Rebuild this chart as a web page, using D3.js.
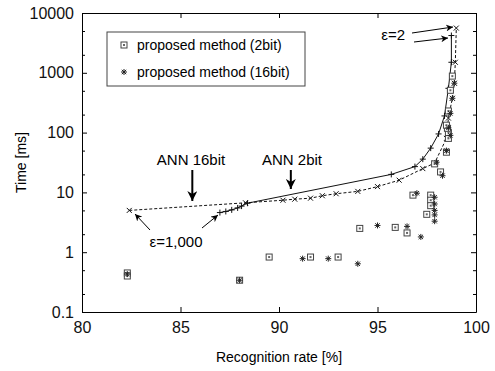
<!DOCTYPE html>
<html>
<head>
<meta charset="utf-8">
<script src="https://cdn.jsdelivr.net/npm/d3@7"></script>
<style>
  body { margin: 0; background: #fff; }
  svg { font-family: "Liberation Sans", Arial, sans-serif; }
  .axis path, .axis line { stroke: #000; }
</style>
</head>
<body>
<svg id="chart" width="495" height="371"></svg>
<script>
// ANN 2bit (solid line, + markers)
const ann2bit = [
  [87.0, 4.6], [87.3, 4.8], [87.6, 5.1], [87.9, 5.5], [88.1, 5.9], [88.4, 6.6],
  [95.7, 20], [96.9, 27], [97.3, 36], [97.7, 55], [98.1, 95], [98.4, 190],
  [98.6, 550], [98.75, 1500], [98.75, 4200]
];
// ANN 16bit (dashed line, x markers)
const ann16bit = [
  [82.4, 5.0], [88.3, 6.7], [90.2, 7.4], [90.8, 7.7], [91.6, 8.0], [92.2, 8.8],
  [92.9, 9.5], [94.0, 10.4], [95.0, 12.5], [96.1, 16], [97.3, 25], [97.9, 31],
  [98.5, 80], [98.6, 175], [98.8, 375], [98.9, 670], [98.95, 1500], [99.0, 5600]
];
// proposed method (2bit) - squares
const prop2bit = [
  [82.3, 0.45], [82.3, 0.40], [88.0, 0.34], [89.5, 0.83], [91.6, 0.83], [93.0, 0.83],
  [94.1, 2.5], [95.9, 2.6], [96.5, 2.1], [96.8, 9.0], [97.5, 4.3], [97.7, 9.0],
  [97.7, 7.4], [97.7, 6.0], [97.9, 30], [98.2, 22], [98.5, 47], [98.6, 80],
  [98.6, 100], [98.55, 118], [98.5, 133], [98.6, 230], [98.7, 510], [98.8, 880]
];
// proposed method (16bit) - asterisks
const prop16bit = [
  [82.3, 0.43], [88.0, 0.34], [91.2, 0.78], [92.5, 0.78], [94.0, 0.64], [95.0, 2.8],
  [96.5, 2.7], [97.2, 1.8], [97.0, 9.7], [97.9, 8.3], [97.9, 6.4], [97.9, 5.0],
  [97.9, 4.2], [97.9, 3.3], [98.0, 32], [98.3, 19], [98.5, 50], [98.7, 90],
  [98.6, 120], [98.7, 210], [98.8, 375], [98.9, 670]
];
const xTicks = [80, 85, 90, 95, 100];
const yTicks = [0.1, 1, 10, 100, 1000, 10000];
const yMinor = [0.2, 0.5, 2, 5, 20, 50, 200, 500, 2000, 5000];
const legendLabels = ['proposed method (2bit)', 'proposed method (16bit)'];

const svg = d3.select('#chart');
const margin = { left: 82, right: 19, top: 13, bottom: 59 };
const W = 495, H = 371;

const x = d3.scaleLinear().domain([80, 100]).range([margin.left, W - margin.right]);
const y = d3.scaleLog().domain([0.1, 10000]).range([H - margin.bottom, margin.top]);

// arrow heads
const defs = svg.append('defs');
defs.append('marker').attr('id', 'bigHead')
  .attr('viewBox', '0 0 10 10').attr('refX', 10).attr('refY', 5)
  .attr('markerWidth', 10).attr('markerHeight', 10).attr('markerUnits', 'userSpaceOnUse')
  .attr('orient', 'auto')
  .append('path').attr('d', 'M0,0L10,5L0,10L3,5Z').attr('fill', '#000');
defs.append('marker').attr('id', 'smallHead')
  .attr('viewBox', '0 0 10 10').attr('refX', 10).attr('refY', 5)
  .attr('markerWidth', 7).attr('markerHeight', 7).attr('markerUnits', 'userSpaceOnUse')
  .attr('orient', 'auto')
  .append('path').attr('d', 'M0,0L10,5L0,10L3,5Z').attr('fill', '#000');

// axes (ticks inward, box with mirrored ticks)
const fmtY = d => d3.format(',')(d).replace(/,/g, '');
svg.append('g').attr('class', 'axis').attr('transform', `translate(0,${y(0.1)})`)
  .call(d3.axisBottom(x).tickValues(xTicks).tickSizeInner(-5).tickSizeOuter(0).tickPadding(10))
  .call(g => g.selectAll('text').attr('font-size', 16).attr('fill', '#111'));
svg.append('g').attr('class', 'axis').attr('transform', `translate(0,${y(10000)})`)
  .call(d3.axisTop(x).tickValues(xTicks).tickSizeInner(-5).tickSizeOuter(0).tickFormat(''));
svg.append('g').attr('class', 'axis').attr('transform', `translate(${x(80)},0)`)
  .call(d3.axisLeft(y).tickValues(yTicks).tickFormat(fmtY).tickSizeInner(-5).tickSizeOuter(0).tickPadding(8))
  .call(g => g.selectAll('text').attr('font-size', 16).attr('fill', '#111'));
svg.append('g').attr('class', 'axis').attr('transform', `translate(${x(100)},0)`)
  .call(d3.axisRight(y).tickValues(yTicks).tickSizeInner(-5).tickSizeOuter(0).tickFormat(''));
svg.append('g').attr('class', 'axis').attr('transform', `translate(${x(80)},0)`)
  .call(d3.axisLeft(y).tickValues(yMinor).tickSizeInner(-3).tickSizeOuter(0).tickFormat(''))
  .call(g => g.select('.domain').remove());
svg.append('g').attr('class', 'axis').attr('transform', `translate(${x(100)},0)`)
  .call(d3.axisRight(y).tickValues(yMinor).tickSizeInner(-3).tickSizeOuter(0).tickFormat(''))
  .call(g => g.select('.domain').remove());

// axis titles
svg.append('text').attr('x', (x(80) + x(100)) / 2).attr('y', 362)
  .attr('text-anchor', 'middle').attr('font-size', 14).text('Recognition rate [%]');
svg.append('text').attr('transform', `translate(26,${(y(0.1) + y(10000)) / 2}) rotate(-90)`)
  .attr('text-anchor', 'middle').attr('font-size', 14).text('Time [ms]');

// lines
const line = d3.line().x(d => x(d[0])).y(d => y(d[1]));
svg.append('path').datum(ann2bit).attr('d', line)
  .attr('fill', 'none').attr('stroke', '#111').attr('stroke-width', 1);
svg.append('path').datum(ann16bit).attr('d', line)
  .attr('fill', 'none').attr('stroke', '#111').attr('stroke-width', 1)
  .attr('stroke-dasharray', '3,2');

const plusPath = 'M-3,0H3M0,-3V3';
const crossPath = 'M-2.5,-2.5L2.5,2.5M-2.5,2.5L2.5,-2.5';
const starPath = 'M-3,0H3M0,-3V3M-2.2,-2.2L2.2,2.2M-2.2,2.2L2.2,-2.2';

svg.append('g').selectAll('path').data(ann2bit).join('path')
  .attr('transform', d => `translate(${x(d[0])},${y(d[1])})`)
  .attr('d', plusPath).attr('stroke', '#111').attr('stroke-width', 1);
svg.append('g').selectAll('path').data(ann16bit).join('path')
  .attr('transform', d => `translate(${x(d[0])},${y(d[1])})`)
  .attr('d', crossPath).attr('stroke', '#111').attr('stroke-width', 1);

// scatter: squares and asterisks
function square(sel) {
  sel.append('rect').attr('x', -3).attr('y', -3).attr('width', 6).attr('height', 6)
    .attr('fill', '#fff').attr('stroke', '#444').attr('stroke-width', 1);
  sel.append('rect').attr('x', -1).attr('y', -1).attr('width', 2).attr('height', 2)
    .attr('fill', '#666');
}
svg.append('g').selectAll('g').data(prop2bit).join('g')
  .attr('transform', d => `translate(${x(d[0])},${y(d[1])})`)
  .call(square);
svg.append('g').selectAll('path').data(prop16bit).join('path')
  .attr('transform', d => `translate(${x(d[0])},${y(d[1])})`)
  .attr('d', starPath).attr('stroke', '#222').attr('stroke-width', 1);

// annotations
svg.append('text').attr('x', 191).attr('y', 165).attr('text-anchor', 'middle')
  .attr('font-size', 15).text('ANN 16bit');
svg.append('line').attr('x1', x(85.6)).attr('y1', 170).attr('x2', x(85.6)).attr('y2', 201)
  .attr('stroke', '#000').attr('stroke-width', 2).attr('marker-end', 'url(#bigHead)');
svg.append('text').attr('x', 292).attr('y', 165).attr('text-anchor', 'middle')
  .attr('font-size', 15).text('ANN 2bit');
svg.append('line').attr('x1', x(90.6)).attr('y1', 170).attr('x2', x(90.6)).attr('y2', 189)
  .attr('stroke', '#000').attr('stroke-width', 2).attr('marker-end', 'url(#bigHead)');

svg.append('text').attr('x', 176).attr('y', 247).attr('text-anchor', 'middle')
  .attr('font-size', 15).text('ε=1,000');
svg.append('line').attr('x1', 150).attr('y1', 230).attr('x2', 135).attr('y2', 214)
  .attr('stroke', '#000').attr('stroke-width', 1).attr('marker-end', 'url(#smallHead)');
svg.append('line').attr('x1', 202).attr('y1', 228).attr('x2', 218).attr('y2', 215)
  .attr('stroke', '#000').attr('stroke-width', 1).attr('marker-end', 'url(#smallHead)');

svg.append('text').attr('x', 405).attr('y', 40).attr('text-anchor', 'end')
  .attr('font-size', 15).text('ε=2');
svg.append('line').attr('x1', 412).attr('y1', 33).attr('x2', 453).attr('y2', 27)
  .attr('stroke', '#000').attr('stroke-width', 1).attr('marker-end', 'url(#smallHead)');
svg.append('line').attr('x1', 414).attr('y1', 42).attr('x2', 448).attr('y2', 38)
  .attr('stroke', '#000').attr('stroke-width', 1).attr('marker-end', 'url(#smallHead)');

// legend
const lg = svg.append('g');
lg.append('rect').attr('x', 107).attr('y', 32).attr('width', 198).attr('height', 54)
  .attr('fill', '#fff').attr('stroke', '#444').attr('stroke-width', 1);
legendLabels.forEach((label, i) => {
  const cy = 45 + i * 27;
  const m = lg.append('g').attr('transform', `translate(124,${cy})`);
  if (i === 0) m.call(square);
  else m.append('path').attr('d', starPath).attr('stroke', '#222');
  lg.append('text').attr('x', 137).attr('y', cy + 5).attr('font-size', 14).text(label);
});
</script>
</body>
</html>
